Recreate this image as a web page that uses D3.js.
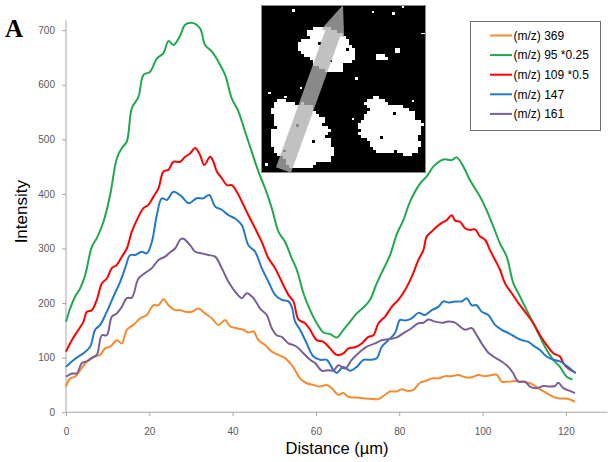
<!DOCTYPE html>
<html><head><meta charset="utf-8">
<script src="https://cdn.jsdelivr.net/npm/d3@7"></script>
<style>body{margin:0;background:#fff}svg{display:block}</style>
</head><body><svg id="c" width="613" height="462"></svg>
<script>
// ---- data (distance µm, intensity) ----
const distanceTicks = [0, 20, 40, 60, 80, 100, 120];
const intensityTicks = [0, 100, 200, 300, 400, 500, 600, 700];
const legendLabels = ["(m/z) 369", "(m/z) 95 *0.25", "(m/z) 109 *0.5", "(m/z) 147", "(m/z) 161"];
const seriesColors = ["#F58A30", "#21A84F", "#FF0000", "#2479C6", "#7A5F96"];

const mz369 = [[0,47],[1,62],[2.2,65],[3.4,77],[5,93],[6.6,102],[8.2,105],[9.4,117],[10.6,120],[12.2,132],[13.4,126],[14.6,151],[16.2,160],[17.8,172],[19.4,178],[21,196],[22.2,196],[23.4,207],[24.6,196],[26.2,187],[27.4,187],[28.6,184],[30.2,184],[31.8,190],[33.4,181],[35,172],[36.6,160],[38.2,169],[39.4,157],[41,154],[42.6,151],[43.8,146],[45,148],[46.2,132],[47.8,123],[49.4,111],[51,105],[52.6,99],[54,88],[55,77],[56.2,62],[57.8,53],[59.4,50],[61,47],[62.6,50],[63.8,44],[65.4,32],[66.6,35],[67.8,28],[69.8,27],[71.8,25],[73.8,24],[75,24],[76.6,32],[77.8,38],[79.4,38],[80.6,42],[82.2,39],[83.4,41],[85,54],[86.6,58],[87.8,62],[89.4,62],[91,66],[92.6,66],[94.2,68],[95.8,64],[97.4,64],[99,68],[100.6,66],[102.2,68],[103.4,69],[104.6,56],[106.2,56],[107.8,57],[109.4,56],[111.4,53],[112.2,50],[113.8,42],[115.4,35],[117,28],[118.6,25],[120.2,25],[122.2,19]];

const mz95 = [[0,166],[1,190],[2.2,212],[3.4,227],[4.6,251],[6.2,303],[7.4,319],[9,349],[10.6,398],[12.2,465],[13.4,484],[14.6,496],[15.8,557],[17.4,578],[18.6,618],[20.2,624],[21.8,648],[23.4,658],[24.6,680],[25.8,673],[27.4,690],[28.6,710],[30.6,713],[32.2,703],[33.4,673],[35,661],[36.6,642],[38.2,618],[39.8,575],[41.4,551],[43,514],[44.6,477],[46.2,441],[47.8,410],[49.4,374],[51,331],[52.6,312],[54.2,282],[55.4,261],[57,218],[58.6,187],[60.2,163],[61.8,146],[63.4,143],[65,137],[66.6,151],[68.2,166],[69.8,181],[71.8,195],[73,206],[74.6,236],[76.2,262],[77.8,288],[79.4,326],[81,352],[82.6,386],[85,419],[86.6,432],[88.2,450],[90.6,463],[92.6,462],[93.8,467],[95.4,450],[97,425],[99.4,395],[101,370],[102.6,340],[104.2,309],[105.8,285],[107.4,236],[109,212],[110.6,187],[112.2,163],[113.8,138],[115.4,114],[117,96],[118.6,83],[120.2,65],[121.6,60]];

const mz109 = [[0,111],[1.4,132],[3,151],[4.2,166],[5,184],[6.2,187],[7.4,206],[8.6,236],[9.8,245],[11,264],[12.2,270],[13.4,285],[14.6,300],[15.8,331],[17,352],[18.6,374],[19.8,380],[21,395],[22.2,410],[23.4,441],[24.6,444],[25.8,459],[27.4,459],[28.6,468],[29.8,474],[31,484],[32.2,471],[33.2,453],[34.6,468],[35.4,459],[36.2,441],[37.4,429],[38.6,416],[39.8,416],[41,404],[42.2,386],[43.8,361],[45.4,337],[47,312],[48.6,282],[50.2,264],[51.8,239],[53.4,215],[54.6,203],[55.8,170],[57.4,163],[58.6,151],[60.2,132],[61.8,129],[63.4,117],[65,105],[66.6,108],[67.8,117],[69.4,119],[71,126],[72.6,138],[73.8,141],[75,163],[76.6,175],[78.2,193],[79.8,206],[81.4,224],[83,248],[84.6,279],[85.8,297],[86.6,322],[87.8,331],[89,340],[90.2,347],[91.4,352],[92.6,361],[93.4,351],[94.6,349],[95.8,337],[97,334],[98.2,335],[99.4,322],[100.6,316],[101.8,297],[103,279],[104.2,261],[105.4,236],[107,218],[108.6,200],[110.2,184],[112.2,163],[113.8,141],[115.4,123],[117,108],[118.6,102],[119.4,90],[120.6,80],[122.4,72]];

const mz147 = [[0,83],[1.4,93],[3,102],[4.2,108],[5.8,120],[7,151],[8.2,160],[9.8,184],[11.4,212],[13,239],[14.2,264],[15.4,288],[16.6,288],[18.2,294],[19.4,291],[20.6,312],[21.8,361],[23,392],[24.2,389],[25.8,404],[27.8,395],[29.4,383],[31.4,392],[33,392],[34.4,398],[35.8,377],[37.4,371],[39,361],[40.6,355],[42.2,343],[43.8,306],[45.4,294],[47,264],[48.6,239],[50.2,215],[51.8,206],[53.4,203],[54.2,193],[55,166],[56.2,151],[57.8,126],[59.4,102],[61,96],[62.6,96],[64.2,77],[65,72],[66.6,83],[68.2,76],[69.8,83],[71.4,96],[73,96],[74.6,99],[75.8,120],[77.4,132],[79,145],[80.2,169],[81.4,168],[83,172],[84.6,182],[86.2,178],[87.8,187],[89.4,193],[90.6,203],[91.8,201],[93.4,203],[95,203],[96.2,209],[97.4,196],[98.6,196],[99.8,184],[101.4,178],[103,160],[104.6,151],[106.2,145],[107.8,138],[109.4,132],[111,129],[112.2,122],[113.8,114],[115.4,102],[117,96],[118.6,93],[120.2,85],[122.2,72]];

const mz161 = [[0,65],[1.4,71],[2.6,71],[3.8,90],[5,93],[6.2,99],[7.4,105],[8.6,141],[9.8,141],[11,175],[12.2,181],[13.4,193],[14.6,209],[15.8,210],[17.4,245],[19,255],[20.6,264],[22.2,279],[23.8,285],[25,293],[26.2,300],[27.4,316],[28.2,318],[29.8,306],[31,294],[32.6,291],[34.2,288],[35.8,285],[37.4,264],[39,239],[40.6,221],[42.2,209],[43.4,218],[45,209],[46.6,190],[48.2,178],[49.4,154],[50.6,141],[51.8,138],[53.4,126],[54.6,123],[55.4,120],[57,108],[58.6,96],[59.8,90],[61.4,76],[63,77],[64.2,76],[65.4,86],[67,80],[68.6,96],[70.2,108],[72.2,120],[74.2,126],[75.8,132],[77.8,134],[79.4,137],[81,145],[82.6,152],[84.6,163],[85.8,164],[87,170],[88.6,166],[90.2,164],[91.8,166],[93.4,164],[94.6,157],[95.8,151],[97.4,154],[98.6,141],[99.8,126],[101.4,109],[102.6,102],[104.6,93],[106.2,83],[107.4,71],[108.6,56],[110.2,56],[111.4,47],[113,44],[114.6,48],[116.2,47],[117.4,48],[118.2,54],[119.4,44],[121,39],[122.2,35]];

const allSeries = [mz369, mz95, mz109, mz147, mz161];

// ---- drawing ----
const svg = d3.select("#c");
const FONT = "'Liberation Sans', Arial, sans-serif";
const x = d3.scaleLinear().domain([0, 130]).range([66, 607.5]);
const y = d3.scaleLinear().domain([0, 700]).range([412.2, 30.2]);
const axisColor = "#A6A6A6";

// Y axis
const gy = svg.append("g").attr("transform", `translate(${x(0)},0)`)
  .call(d3.axisLeft(y).tickValues(intensityTicks).tickSize(4).tickSizeOuter(0).tickPadding(7));
gy.select(".domain").remove();
gy.selectAll(".tick line").attr("stroke", axisColor);
gy.selectAll("text").attr("font-family", FONT).attr("font-size", 10).attr("fill", "#595959");
svg.append("line").attr("x1", x(0)).attr("x2", x(0)).attr("y1", y(0)).attr("y2", y(718))
  .attr("stroke", axisColor).attr("stroke-width", 1);

// X axis
const gx = svg.append("g").attr("transform", `translate(0,${y(0)})`)
  .call(d3.axisBottom(x).tickValues(distanceTicks).tickSize(4).tickSizeOuter(0).tickPadding(12));
gx.select(".domain").remove();
gx.selectAll(".tick line").attr("stroke", axisColor);
gx.selectAll("text").attr("font-family", FONT).attr("font-size", 10).attr("fill", "#595959");
svg.append("line").attr("x1", x(0)).attr("x2", x(130)).attr("y1", y(0)).attr("y2", y(0))
  .attr("stroke", axisColor).attr("stroke-width", 1);

// Lines
const line = d3.line().x(d => x(d[0])).y(d => y(d[1])).curve(d3.curveCatmullRom.alpha(0.5));
allSeries.forEach((s, i) => {
  svg.append("path").datum(s).attr("d", line).attr("fill", "none")
    .attr("stroke", seriesColors[i]).attr("stroke-width", 2).attr("stroke-linejoin", "round");
});

// Axis titles
svg.append("text").attr("x", 337).attr("y", 453.5).attr("text-anchor", "middle")
  .attr("font-family", FONT).attr("font-size", 16.5).attr("fill", "#000").text("Distance (µm)");
svg.append("text").attr("transform", "translate(27,211.7) rotate(-90)").attr("text-anchor", "middle")
  .attr("font-family", FONT).attr("font-size", 17).attr("fill", "#000").text("Intensity");

// Panel letter
svg.append("text").attr("x", 5).attr("y", 37).attr("font-family", "'Liberation Serif','Times New Roman',serif")
  .attr("font-weight", "bold").attr("font-size", 25).text("A");

// Legend
const lg = svg.append("g");
lg.append("rect").attr("x", 470.5).attr("y", 21.5).attr("width", 130).attr("height", 109)
  .attr("fill", "#fff").attr("stroke", "#707070").attr("stroke-width", 1);
legendLabels.forEach((t, i) => {
  const cy = 35.5 + i * 19.6;
  lg.append("line").attr("x1", 490).attr("x2", 512).attr("y1", cy).attr("y2", cy)
    .attr("stroke", seriesColors[i]).attr("stroke-width", 2);
  lg.append("text").attr("x", 513.5).attr("y", cy + 4.2).attr("font-family", FONT)
    .attr("font-size", 12).attr("fill", "#000").text(t);
});

// Inset micrograph (decorative)
(function inset() {
  const g = svg.append("g");
  const X0 = 261, Y0 = 5, W = 165, H = 168;
  g.append("rect").attr("x", X0).attr("y", Y0).attr("width", W).attr("height", H).attr("fill", "#000");
  const blobs = [
    [328,50,25,19],[307,46,10,7],[334,67,11,7],[322,33,15,6],[345,55,10,10],
    [300,135,27,30],[285,112,14,12],[322,150,13,14],[302,161,18,8],[278,140,9,14],
    [390,128,30,25],[378,105,12,8],[406,145,15,10],[366,126,8,6],
    [381,58,6,4]
  ];
  const cell = 3;
  for (let cy = Y0 + 1; cy < Y0 + H - 1; cy += cell) {
    let run = null;
    for (let cx = X0 + 1; cx <= X0 + W - 1; cx += cell) {
      const px = cx + cell / 2, py = cy + cell / 2;
      let v = -10;
      for (const b of blobs) {
        const dx = (px - b[0]) / b[2], dy = (py - b[1]) / b[3];
        v = Math.max(v, 1 - dx * dx - dy * dy);
      }
      const n = 0.5 * Math.sin(0.9 * px + 1.3 * py) * Math.sin(0.7 * py - 1.1 * px + 2)
              + 0.3 * Math.sin(2.3 * px) * Math.cos(1.9 * py);
      const on = v + 0.45 * n > 0.05 && cx + cell <= X0 + W;
      if (on) { if (!run) run = [cx, cx + cell]; else run[1] = cx + cell; }
      if ((!on || cx + cell > X0 + W - 1 - cell) && run) {
        g.append("rect").attr("x", run[0]).attr("y", cy).attr("width", run[1] - run[0]).attr("height", cell).attr("fill", "#fff");
        run = null;
      }
    }
  }
  const specks = [[395,48,5,5],[292,9,3,3],[392,12,3,3],[372,11,2,2],[402,6,2,2],[355,77,3,3],
    [421,33,4,1],[265,163,3,3],[268,92,3,2],[300,87,2,2],[284,96,3,2],[352,118,2,2],[412,100,2,2]];
  specks.forEach(s => g.append("rect").attr("x", s[0]).attr("y", s[1]).attr("width", s[2]).attr("height", s[3]).attr("fill", "#fff"));
  const holes = [[318,42,3,3],[346,48,3,3],[296,124,3,3],[312,140,3,3],[283,150,3,2],[393,112,3,3],[380,136,3,3],[330,60,2,2]];
  holes.forEach(s => g.append("rect").attr("x", s[0]).attr("y", s[1]).attr("width", s[2]).attr("height", s[3]).attr("fill", "#000"));
  // arrow
  const pts = [[276,167.3],[325.3,30.5],[321.5,29.1],[343,5],[344.1,37.3],[340.3,35.9],[291,172.7]];
  g.append("polygon").attr("points", pts.map(p => p.join(",")).join(" "))
    .attr("fill", "#B0B0B0").attr("fill-opacity", 0.78);
  g.append("rect").attr("x", X0 + 0.5).attr("y", Y0 + 0.5).attr("width", W - 1).attr("height", H - 1)
    .attr("fill", "none").attr("stroke", "#8c8c8c").attr("stroke-width", 1);
})();
</script></body></html>
